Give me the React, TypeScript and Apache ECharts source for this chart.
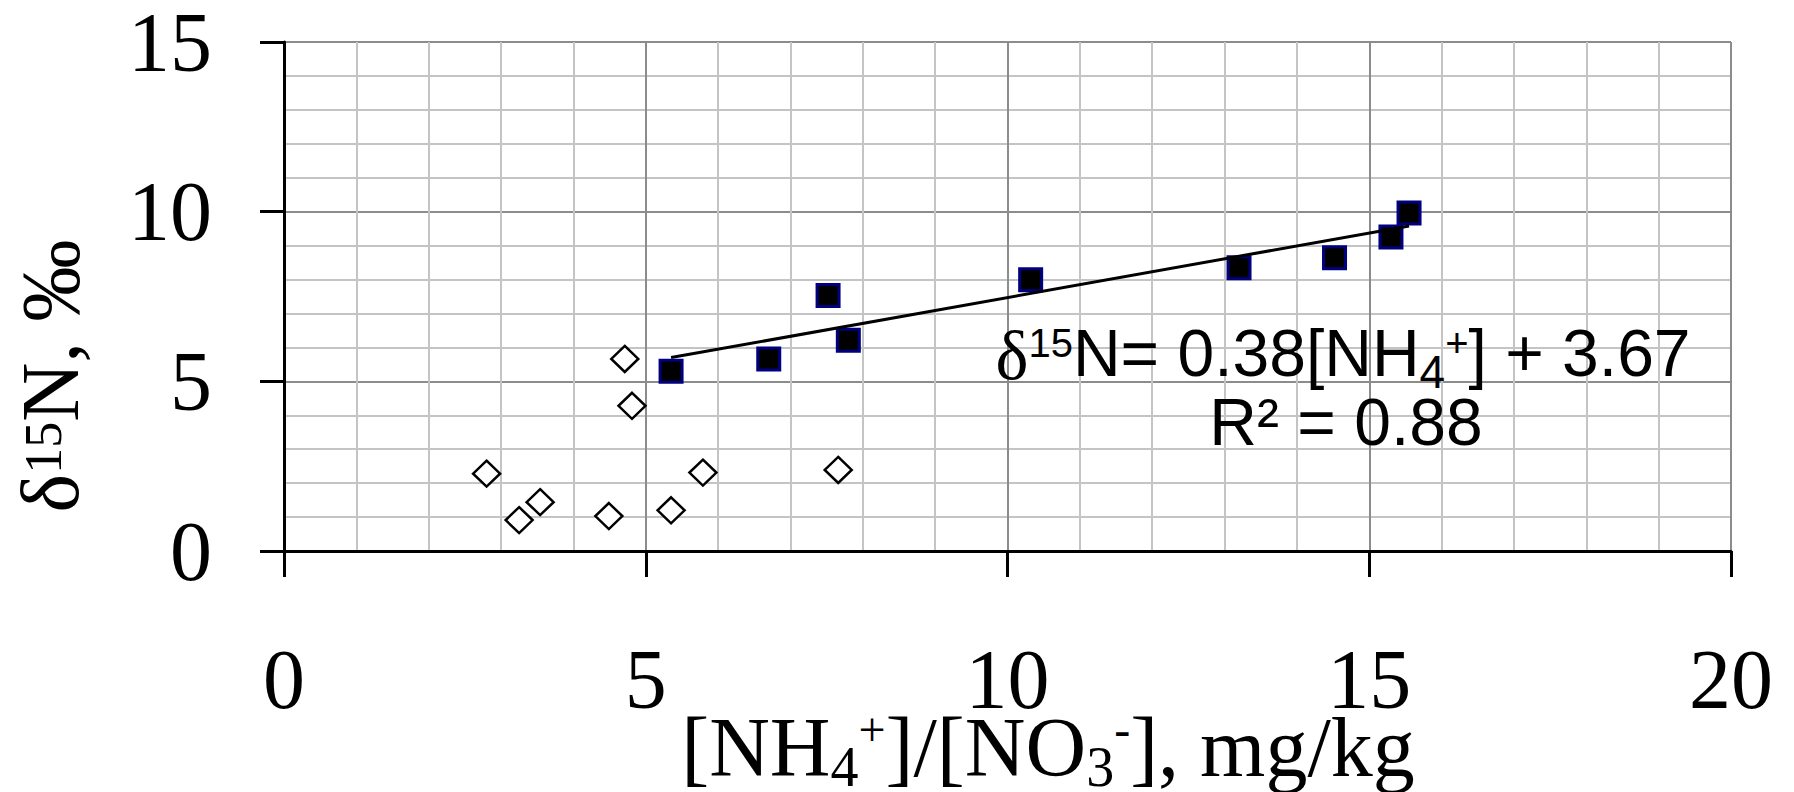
import React, { useEffect, useRef } from 'react';
import * as echarts from 'echarts';

const xTicks = [0, 5, 10, 15, 20];
const yTicks = [0, 5, 10, 15];
const xSquares = [5.35, 6.7, 7.52, 7.8, 10.32, 13.2, 14.52, 15.3, 15.55];
const ySquares = [5.3, 5.66, 7.53, 6.21, 7.99, 8.35, 8.64, 9.25, 9.96];
const xDiamonds = [2.8, 3.25, 3.54, 4.49, 4.71, 4.81, 5.35, 5.79, 7.66];
const yDiamonds = [2.28, 0.91, 1.44, 1.03, 5.66, 4.28, 1.2, 2.31, 2.39];
const trendX = [5.35, 15.55];
const trendY = [5.7, 9.58];

const SERIF = 'Liberation Serif';
const SANS = 'Liberation Sans';

export default function App() {
  const ref = useRef<HTMLDivElement>(null);
  useEffect(() => {
    document.body.style.margin = '0';
    const chart = echarts.init(ref.current!, null, { renderer: 'svg' });
    const squares = xSquares.map((x, i) => [x, ySquares[i]]);
    const diamonds = xDiamonds.map((x, i) => [x, yDiamonds[i]]);
    const trend = trendX.map((x, i) => [x, trendY[i]]);
    chart.setOption({
      animation: false,
      backgroundColor: '#fff',
      grid: { left: 284, top: 39, right: 63, bottom: 241, containLabel: false },
      xAxis: {
        type: 'value',
        min: xTicks[0],
        max: xTicks[xTicks.length - 1],
        interval: 5,
        axisLine: { show: true, onZero: true, lineStyle: { color: '#000', width: 3 } },
        axisTick: { show: true, inside: false, length: 26, lineStyle: { color: '#000', width: 3 } },
        axisLabel: { margin: 86, fontFamily: SERIF, fontSize: 84, color: '#000' },
        splitLine: { show: true, lineStyle: { color: '#8c8c8c', width: 2 } },
        minorTick: { show: false, splitNumber: 5 },
        minorSplitLine: { show: true, lineStyle: { color: '#c4c4c4', width: 2 } },
      },
      yAxis: {
        type: 'value',
        min: yTicks[0],
        max: yTicks[yTicks.length - 1],
        interval: 5,
        axisLine: { show: true, onZero: false, lineStyle: { color: '#000', width: 3 } },
        axisTick: { show: true, inside: false, length: 24, lineStyle: { color: '#000', width: 3 } },
        axisLabel: { margin: 72, fontFamily: SERIF, fontSize: 84, color: '#000' },
        splitLine: { show: true, lineStyle: { color: '#8c8c8c', width: 2 } },
        minorTick: { show: false, splitNumber: 5 },
        minorSplitLine: { show: true, lineStyle: { color: '#c4c4c4', width: 2 } },
      },
      series: [
        {
          type: 'scatter',
          data: diamonds,
          symbol: 'diamond',
          symbolSize: [27, 26],
          itemStyle: { color: '#fff', borderColor: '#000', borderWidth: 2.5, opacity: 1 },
          z: 3,
        },
        {
          type: 'scatter',
          data: squares,
          symbol: 'rect',
          symbolSize: 22,
          itemStyle: { color: '#000', borderColor: '#000080', borderWidth: 3, opacity: 1 },
          z: 3,
        },
        {
          type: 'line',
          data: trend,
          symbol: 'none',
          lineStyle: { color: '#000', width: 3 },
          z: 4,
        },
      ],
      graphic: [
        {
          type: 'text',
          x: 50,
          y: 376,
          rotation: Math.PI / 2,
          style: {
            text: '{m|δ}{s|15}{m|N, ‰}',
            align: 'center',
            verticalAlign: 'middle',
            fill: '#000',
            rich: {
              m: { fontFamily: SERIF, fontSize: 82, lineHeight: 82, verticalAlign: 'top', fill: '#000' },
              s: { fontFamily: SERIF, fontSize: 52, lineHeight: 52, verticalAlign: 'top', padding: [8, 0, 0, 0], fill: '#000' },
            },
          },
        },
        {
          type: 'text',
          x: 1048,
          y: 705,
          style: {
            text: '{m|[NH}{b|4}{s|+}{m|]/[NO}{b|3}{s|-}{m|], mg/kg}',
            align: 'center',
            verticalAlign: 'top',
            fill: '#000',
            rich: {
              m: { fontFamily: SERIF, fontSize: 84, lineHeight: 84, verticalAlign: 'top', fill: '#000' },
              b: { fontFamily: SERIF, fontSize: 56, lineHeight: 56, verticalAlign: 'top', padding: [34, 0, 0, 0], fill: '#000' },
              s: { fontFamily: SERIF, fontSize: 48, lineHeight: 48, verticalAlign: 'top', padding: [0, 0, 0, 0], fill: '#000' },
            },
          },
        },
        {
          type: 'text',
          x: 1343,
          y: 320,
          z: 10,
          style: {
            text: '{d|δ}{s|15}{m|N= 0.38[NH}{b|4}{s|+}{m|] + 3.67}',
            align: 'center',
            verticalAlign: 'top',
            fill: '#000',
            rich: {
              d: { fontFamily: SERIF, fontSize: 70, lineHeight: 66, verticalAlign: 'top', fill: '#000' },
              m: { fontFamily: SANS, fontSize: 66, lineHeight: 66, verticalAlign: 'top', fill: '#000' },
              s: { fontFamily: SANS, fontSize: 40, lineHeight: 40, verticalAlign: 'top', padding: [3, 0, 0, 0], fill: '#000' },
              b: { fontFamily: SANS, fontSize: 46, lineHeight: 46, verticalAlign: 'top', padding: [29, 0, 0, 0], fill: '#000' },
            },
          },
        },
        {
          type: 'text',
          x: 1346,
          y: 422,
          z: 10,
          style: {
            text: 'R² = 0.88',
            fontFamily: SANS,
            fontSize: 66,
            align: 'center',
            verticalAlign: 'middle',
            fill: '#000',
          },
        },
      ],
    });
    return () => chart.dispose();
  }, []);
  return <div ref={ref} style={{ width: 1794, height: 792 }} />;
}
